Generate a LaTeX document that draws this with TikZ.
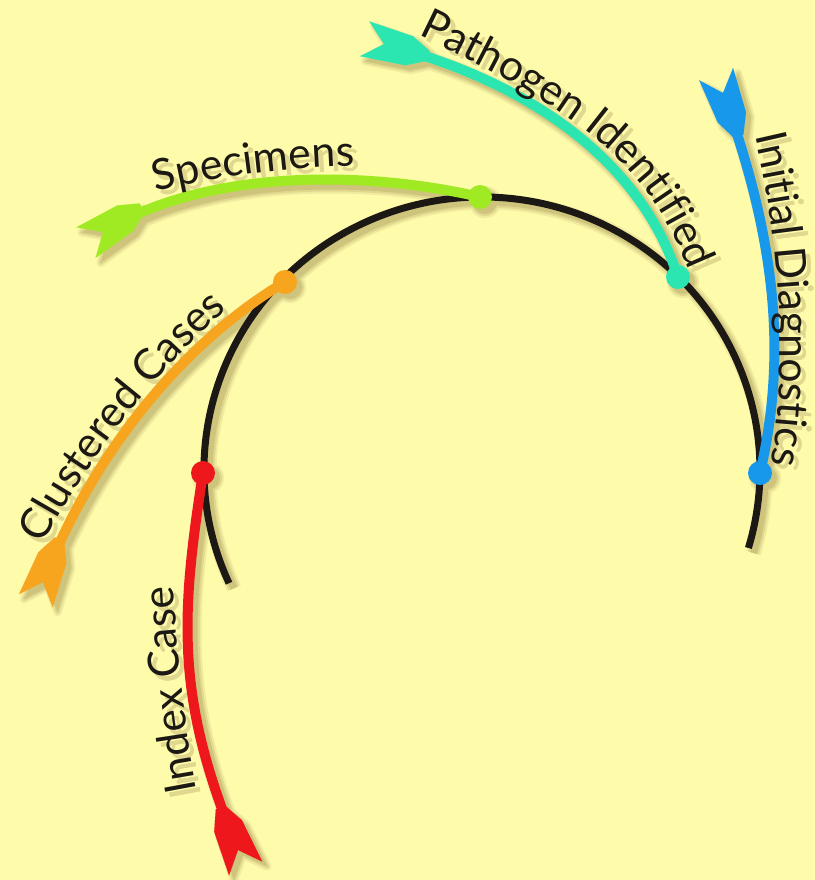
\documentclass[tikz,border=0pt]{standalone}
\usepackage{fontspec}
\setmainfont{Lato}
\usetikzlibrary{decorations.text}

\definecolor{paper}{RGB}{254,251,170}
\definecolor{inkBlack}{RGB}{28,24,20}
\definecolor{cRed}{RGB}{238,24,28}
\definecolor{cOrange}{RGB}{247,164,30}
\definecolor{cLime}{RGB}{160,234,36}
\definecolor{cTeal}{RGB}{44,230,178}
\definecolor{cBlue}{RGB}{24,152,234}
\definecolor{shadeA}{RGB}{240,235,158}
\definecolor{shadeB}{RGB}{224,216,142}
\definecolor{shadeC}{RGB}{206,196,124}

% one drawing unit is 0.25pt; \sw widens strokes for the soft shadow passes
\newcommand\sw{0}
\newcommand\labelfont{\fontsize{10.7}{10.7}\selectfont}

\newcommand\paintas[1]{%
  \colorlet{pBlack}{#1}\colorlet{pRed}{#1}\colorlet{pOrange}{#1}%
  \colorlet{pLime}{#1}\colorlet{pTeal}{#1}\colorlet{pBlue}{#1}\colorlet{pText}{#1}}
\newcommand\paintnormal{%
  \colorlet{pBlack}{inkBlack}\colorlet{pRed}{cRed}\colorlet{pOrange}{cOrange}%
  \colorlet{pLime}{cLime}\colorlet{pTeal}{cTeal}\colorlet{pBlue}{cBlue}\colorlet{pText}{inkBlack}}

\tikzset{
  spine/.style={draw=pBlack, line width=(7+\sw)*0.25pt},
  strand/.style={draw=#1, line width=(10+\sw)*0.25pt},
  caption/.style={decorate,
    decoration={text along path, text={|\labelfont\color{pText}|#1}}},
}

% swallow-tail fletching at a strand's free end: colour, tail, direction
\newcommand\fletch[3]{%
  \filldraw[#1, line width=(0.01+\sw)*0.25pt, line join=round, shift={(#2)}, rotate=#3]
    (46,5) -- (26,15) -- (-20,18) -- (0,0) -- (-20,-18) -- (26,-15) -- (46,-5) -- cycle;}

% one complete drawing of arc, strands, dots and captions
\newcommand\scene{%
  \draw[spine] (hub) ++(204.5:278 and 273)
    arc[start angle=204.5, end angle=-16.6, x radius=278, y radius=273];
  \draw[strand=pRed] (tRed) .. controls (176,-700) and (180,-620) .. (dRed);
  \draw[strand=pOrange] (tOrange) .. controls (92,-455) and (182,-343) .. (dOrange);
  \draw[strand=pLime] (tLime) .. controls (199,-172) and (354,-168) .. (dLime);
  \draw[strand=pTeal] (tTeal) .. controls (530,-82) and (640,-160) .. (dTeal);
  \draw[strand=pBlue] (tBlue) .. controls (771,-226) and (790,-344) .. (dBlue);
  \fletch{pRed}{tRed}{112.5}
  \fletch{pOrange}{tOrange}{69}
  \fletch{pLime}{tLime}{32}
  \fletch{pTeal}{tTeal}{-15}
  \fletch{pBlue}{tBlue}{-70}
  \foreach \dotpt/\dotcol in {dRed/pRed, dOrange/pOrange, dLime/pLime, dTeal/pTeal, dBlue/pBlue}
    \fill[\dotcol] (\dotpt) circle[radius=12+\sw/2];
  \path[caption={Index Case}]
    (197,-790) .. controls (184,-722) and (176,-646) .. (173,-572) -- (173,-530);
  \path[caption={Clustered Cases}]
    (43,-545) .. controls (89,-458) and (150,-378) .. (222,-314) -- (262,-279);
  \path[caption={Specimens}]
    (156,-192) .. controls (223,-175) and (293,-167) .. (360,-166) -- (400,-167);
  \path[caption={Pathogen Identified}]
    (418,-35) .. controls (529,-89) and (634,-140) .. (680,-250) -- (700,-296);
  \path[caption={Initial Diagnostics}]
    (755,-136) .. controls (781,-247) and (787,-359) .. (771,-468) -- (766,-510);
}

\begin{document}
\begin{tikzpicture}[x=0.25pt, y=0.25pt]
  \useasboundingbox (0,0) rectangle (815,-880);
  \fill[paper] (0,0) rectangle (815,-880);

  % centre of the arc, dots on it and strand tails
  \coordinate (hub) at (482,-470);
  \coordinate (dRed) at (203,-473);
  \coordinate (dOrange) at (285,-282);
  \coordinate (dLime) at (480,-197);
  \coordinate (dTeal) at (678,-277);
  \coordinate (dBlue) at (760,-473);
  \coordinate (tRed) at (238,-850);
  \coordinate (tOrange) at (43,-582);
  \coordinate (tLime) at (103,-232);
  \coordinate (tTeal) at (384,-44);
  \coordinate (tBlue) at (723,-93);

  % soft drop shadow
  \begin{scope}[transform canvas={shift={(5,-5)}}]
    \paintas{shadeA}\renewcommand\sw{8}\scene
    \paintas{shadeB}\renewcommand\sw{4}\scene
    \paintas{shadeC}\colorlet{pText}{shadeB}\renewcommand\sw{0}\scene
  \end{scope}

  \paintnormal
  \scene
\end{tikzpicture}
\end{document}
